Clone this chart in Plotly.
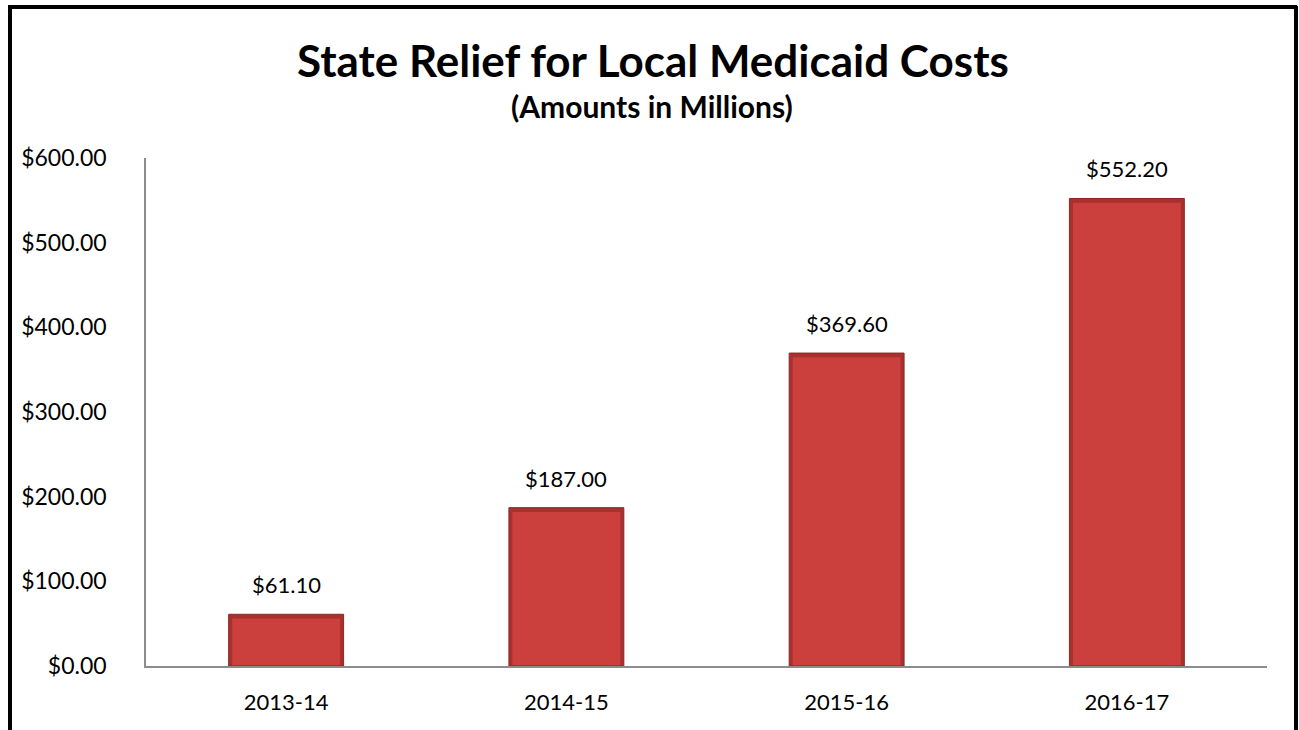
import plotly.graph_objects as go

# Fiscal years and state relief amounts (millions of dollars)
years = ["2013-14", "2014-15", "2015-16", "2016-17"]
relief = [61.10, 187.00, 369.60, 552.20]
y_ticks = [0, 100, 200, 300, 400, 500, 600]
y_tick_text = [f"${v:,.2f}" for v in y_ticks]

W, H = 1299, 730
L, R, T, B = 146, 32, 158, 64
FONT = "Lato, Carlito, Calibri, sans-serif"

def px_x(px):
    return (px - L) / (W - L - R)

def px_y(py):
    return 1 - (py - T) / (H - T - B)

fig = go.Figure()

# Bar body (darker bevel rim)
fig.add_trace(go.Bar(
    x=years, y=relief, width=0.41,
    marker=dict(color="#A8312E", line=dict(color="#8A2826", width=1)),
    hoverinfo="skip", showlegend=False,
))
# Bar face (lighter front)
fig.add_trace(go.Bar(
    x=years, y=[v - 6 for v in relief], base=1.0, width=0.385,
    marker=dict(color="#CB3F3C", line=dict(width=0)),
    hoverinfo="skip", showlegend=False,
))

# Value labels above each bar
for yr, v in zip(years, relief):
    fig.add_annotation(
        x=yr, y=v, text=f"${v:,.2f}", showarrow=False,
        yanchor="bottom", yshift=14,
        font=dict(family=FONT, size=22, color="#000000"),
    )

# Title and subtitle, centred on the page
fig.add_annotation(
    x=px_x(653), xref="paper", y=px_y(60), yref="paper",
    xanchor="center", yanchor="middle", showarrow=False,
    text="<b>State Relief for Local Medicaid Costs</b>",
    font=dict(family=FONT, size=44, color="#000000"),
)
fig.add_annotation(
    x=px_x(652), xref="paper", y=px_y(106), yref="paper",
    xanchor="center", yanchor="middle", showarrow=False,
    text="<b>(Amounts in Millions)</b>",
    font=dict(family=FONT, size=30, color="#000000"),
)

# Outer frame (left, top, right edges)
frame = dict(color="#000000", width=4)
fig.add_shape(type="line", xref="paper", yref="paper",
              x0=px_x(10), x1=px_x(10), y0=px_y(6), y1=px_y(740), line=frame)
fig.add_shape(type="line", xref="paper", yref="paper",
              x0=px_x(8), x1=px_x(1297), y0=px_y(7), y1=px_y(7), line=frame)
fig.add_shape(type="line", xref="paper", yref="paper",
              x0=px_x(1296), x1=px_x(1296), y0=px_y(6), y1=px_y(740), line=frame)

fig.update_layout(
    width=W, height=H,
    margin=dict(l=L, r=R, t=T, b=B),
    paper_bgcolor="#FFFFFF", plot_bgcolor="#FFFFFF",
    barmode="overlay",
    font=dict(family=FONT, size=22, color="#000000"),
    showlegend=False,
)
fig.update_xaxes(
    showline=True, linecolor="#8C8C8C", linewidth=1.5,
    showgrid=False, ticks="", ticklabelstandoff=16,
    tickfont=dict(family=FONT, size=22),
)
fig.update_yaxes(
    range=[0, 600], tickmode="array", tickvals=y_ticks, ticktext=y_tick_text,
    showline=True, linecolor="#8C8C8C", linewidth=1.5,
    showgrid=False, zeroline=False, ticks="", ticklabelstandoff=33,
    tickfont=dict(family=FONT, size=23),
)

fig.write_html("out.html")
